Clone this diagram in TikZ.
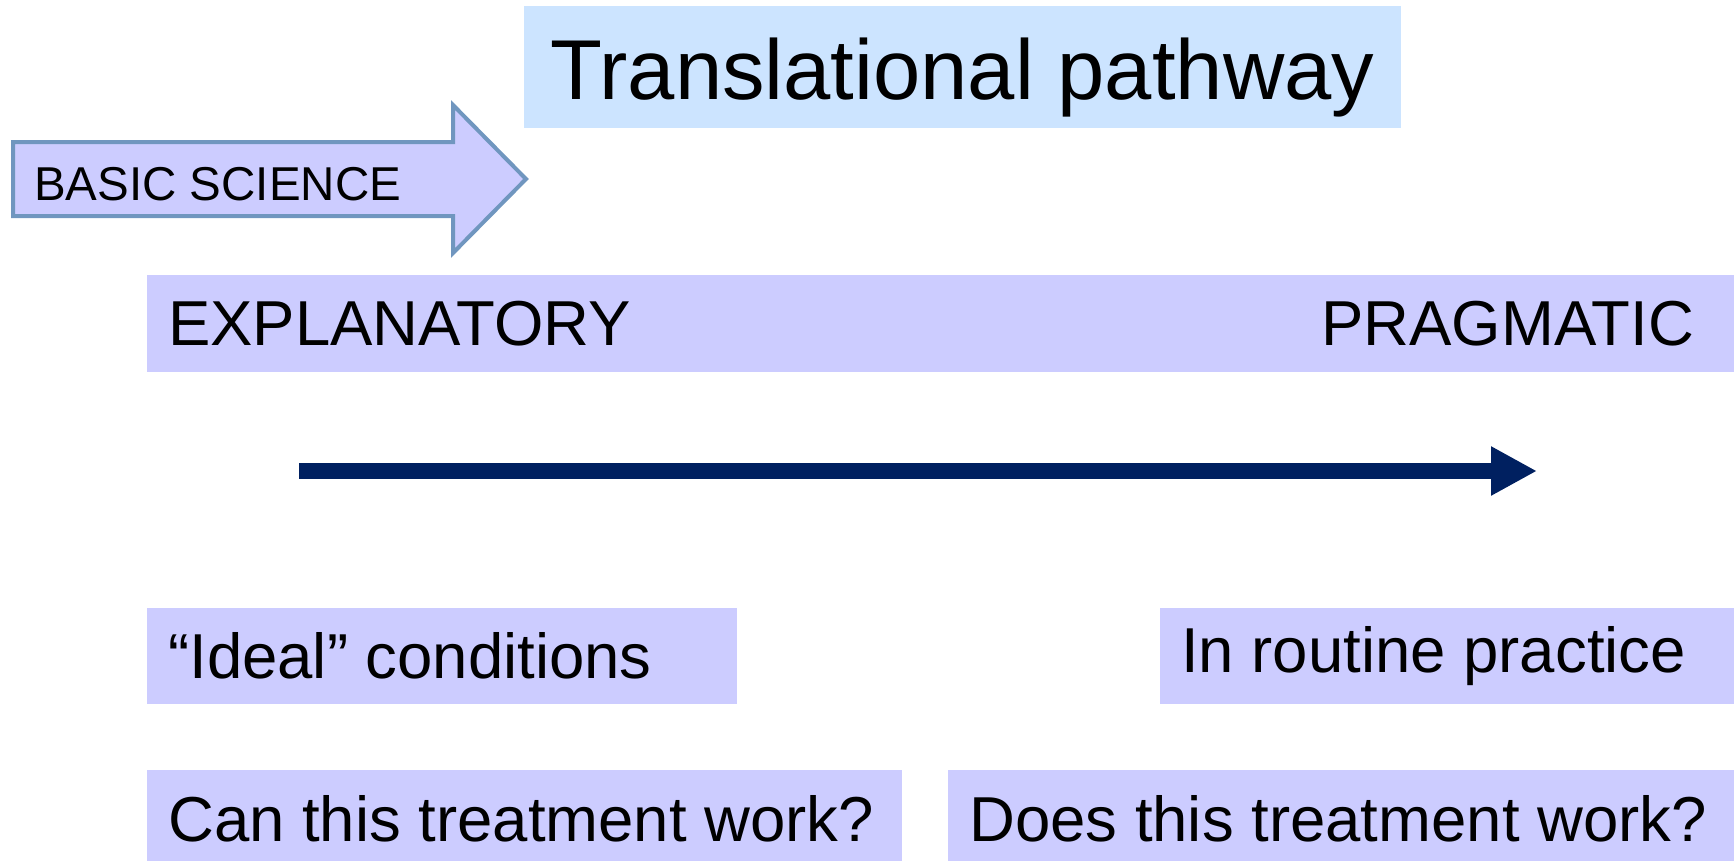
\documentclass[tikz,border=0pt]{standalone}
\usepackage{fontspec}
\setmainfont{Liberation Sans}
\usetikzlibrary{arrows.meta}
\definecolor{lav}{HTML}{CCCCFF}
\definecolor{ltblue}{HTML}{CCE4FF}
\definecolor{edgeblue}{HTML}{7096BF}
\definecolor{navy}{HTML}{002060}
\tikzset{
  lavbox/.style={fill=lav, draw=none, anchor=north west, inner sep=0pt},
  txt/.style={inner sep=0pt, font=\fontsize{63.5}{70}\selectfont},
}
\begin{document}
\begin{tikzpicture}[x=1pt,y=-1pt]
\useasboundingbox (0,0) rectangle (1734,860);
% title
\node[fill=ltblue, anchor=north west, minimum width=877pt, minimum height=122.5pt, inner sep=0pt] (titlebox) at (524,5.5) {};
\node[anchor=base, inner sep=0pt, font=\fontsize{85}{95}\selectfont] (title) at (962.5,99) {Translational pathway};
% basic science arrow
\draw[edgeblue, line width=4pt, fill=lav, line join=miter]
  (13,142) -- (453,142) -- (453,105) -- (526,179) -- (453,253) -- (453,216) -- (13,216) -- cycle;
\node[anchor=base west, inner sep=0pt, font=\fontsize{47.5}{50}\selectfont] (basic) at (34,200) {BASIC SCIENCE};
% explanatory bar
\node[lavbox, minimum width=1587pt, minimum height=97pt] (bar) at (147,275) {};
\node[txt, anchor=west] (expl) at ([xshift=21pt]bar.west) {EXPLANATORY};
\node[txt, anchor=east] (prag) at ([xshift=-40pt]bar.east) {PRAGMATIC};
% main arrow
\coordinate (as) at (299,471);
\coordinate (ae) at (1537,471);
\draw[navy, line width=16pt, -{Triangle[length=46pt,width=46pt]}] (as) -- (ae);
% bottom boxes
\node[lavbox, minimum width=590pt, minimum height=96pt] (ideal) at (147,608) {};
\node[txt, anchor=west] (idealt) at ([xshift=21pt]ideal.west) {“Ideal” conditions};
\node[lavbox, minimum width=574pt, minimum height=96pt] (routine) at (1160,608) {};
\node[txt, anchor=west] (routinet) at ([xshift=21pt]routine.west) {In routine practice};
\node[lavbox, minimum width=755pt, minimum height=92pt] (can) at (147,770) {};
\node[txt, anchor=west] (cant) at ([xshift=21pt,yshift=-3pt]can.west) {Can this treatment work?};
\node[lavbox, minimum width=786pt, minimum height=92pt] (does) at (948,770) {};
\node[txt, anchor=west] (doest) at ([xshift=21pt,yshift=-3pt]does.west) {Does this treatment work?};
\end{tikzpicture}
\end{document}
